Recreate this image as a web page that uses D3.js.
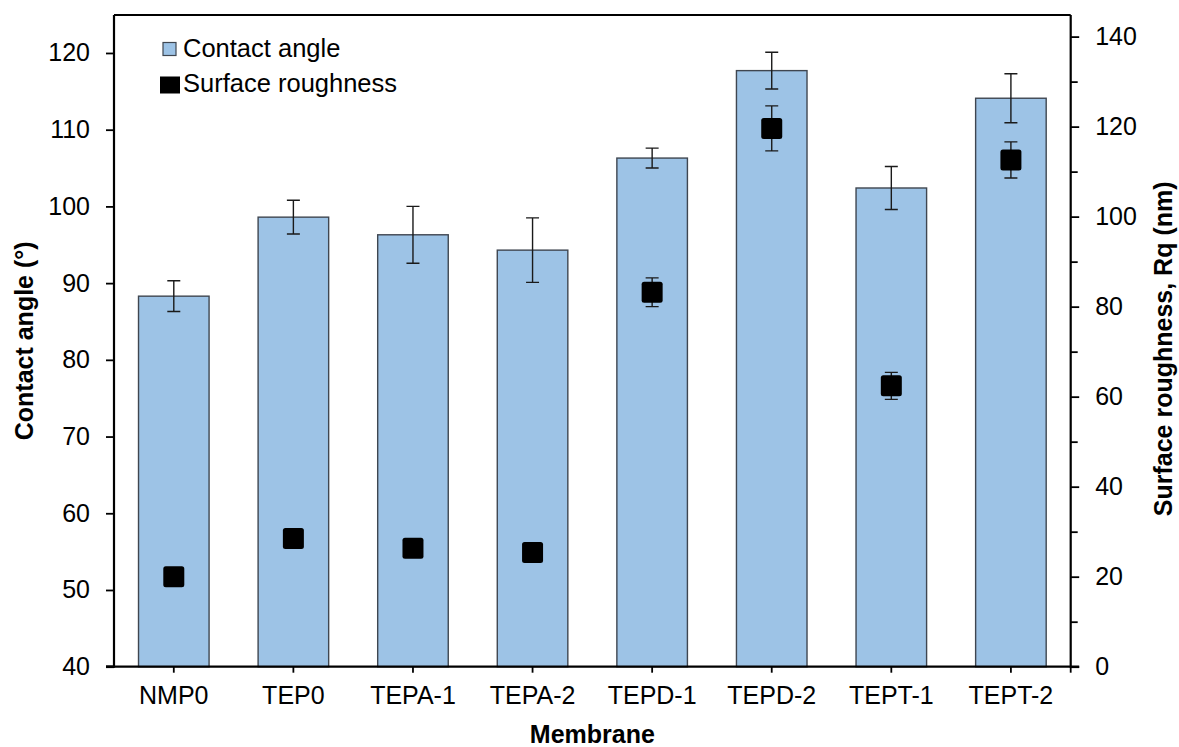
<!DOCTYPE html>
<html>
<head>
<meta charset="utf-8">
<script src="https://cdn.jsdelivr.net/npm/d3@7"></script>
<style>
  html, body { margin: 0; padding: 0; background: #fff; }
  svg { display: block; font-family: "Liberation Sans", Arial, sans-serif; }
</style>
</head>
<body>
<svg id="chart" width="1179" height="747"></svg>
<script>
// ---- data ----
const categories = ["NMP0", "TEP0", "TEPA-1", "TEPA-2", "TEPD-1", "TEPD-2", "TEPT-1", "TEPT-2"];
const contactAngle = [88.3, 98.6, 96.3, 94.3, 106.3, 117.7, 102.4, 114.1];
const contactAngleErr = [2.0, 2.2, 3.7, 4.2, 1.3, 2.4, 2.8, 3.2];
const roughness = [20.0, 28.5, 26.3, 25.4, 83.2, 119.6, 62.4, 112.6];
const roughnessErr = [1.0, 1.0, 1.0, 1.0, 3.2, 5.0, 3.0, 4.0];
const leftTicks = [40, 50, 60, 70, 80, 90, 100, 110, 120];
const rightTicks = [0, 20, 40, 60, 80, 100, 120, 140];
const rightMinorTicks = [10, 30, 50, 70, 90, 110, 130];
const legendLabels = ["Contact angle", "Surface roughness"];
const axisTitles = { x: "Membrane", left: "Contact angle (°)", right: "Surface roughness, Rq (nm)" };

// ---- layout ----
const plot = { left: 114, right: 1070.7, top: 15, bottom: 666.7 };
const FS = 25;
const LFS = 25.5;
const svg = d3.select("#chart");

const x = d3.scaleBand().domain(categories).range([plot.left, plot.right])
  .paddingInner(0.41).paddingOuter(0.205);
const xc = d3.scaleBand().domain(categories).range([plot.left, plot.right]).padding(0);
const yL = d3.scaleLinear().domain([40, 124.95]).range([plot.bottom, plot.top]);
const yR = d3.scaleLinear().domain([0, 144.8]).range([plot.bottom, plot.top]);

const rows = categories.map((c, i) => ({
  c, ca: contactAngle[i], caE: contactAngleErr[i], r: roughness[i], rE: roughnessErr[i]
}));

// bars
svg.append("g").selectAll("rect").data(rows).join("rect")
  .attr("x", d => x(d.c))
  .attr("y", d => yL(d.ca))
  .attr("width", x.bandwidth())
  .attr("height", d => plot.bottom - yL(d.ca))
  .attr("fill", "#9dc3e6")
  .attr("stroke", "#3f4650")
  .attr("stroke-width", 1.4);

const cx = d => xc(d.c) + xc.bandwidth() / 2;
const cap = 6.5;

function errBars(yS, val, err) {
  const gg = svg.append("g").attr("stroke", "#1a1a1a").attr("stroke-width", 1.4).attr("fill", "none");
  gg.selectAll("path").data(rows).join("path")
    .attr("d", d => {
      const x0 = cx(d), yt = yS(val(d) + err(d)), yb = yS(val(d) - err(d));
      return `M${x0},${yt}V${yb}M${x0 - cap},${yt}H${x0 + cap}M${x0 - cap},${yb}H${x0 + cap}`;
    });
}
errBars(yL, d => d.ca, d => d.caE);
errBars(yR, d => d.r, d => d.rE);

// roughness markers
const ms = 21;
svg.append("g").selectAll("rect").data(rows).join("rect")
  .attr("x", d => cx(d) - ms / 2)
  .attr("y", d => yR(d.r) - ms / 2)
  .attr("width", ms).attr("height", ms)
  .attr("rx", 2.5)
  .attr("fill", "#000");

// frame
svg.append("line").attr("x1", plot.left).attr("x2", plot.right)
  .attr("y1", plot.top).attr("y2", plot.top)
  .attr("stroke", "#000").attr("stroke-width", 1.8);

// left axis
const gL = svg.append("g").attr("transform", `translate(${plot.left},0)`)
  .call(d3.axisLeft(yL).tickValues(leftTicks).tickSize(8).tickPadding(16));
// right axis
const gR = svg.append("g").attr("transform", `translate(${plot.right},0)`)
  .call(d3.axisRight(yR).tickValues(rightTicks).tickSize(8.5).tickPadding(16));
svg.append("g").attr("transform", `translate(${plot.right},0)`)
  .call(d3.axisRight(yR).tickValues(rightMinorTicks).tickSize(7).tickFormat(""))
  .select(".domain").remove();
// bottom axis
const gB = svg.append("g").attr("transform", `translate(0,${plot.bottom})`)
  .call(d3.axisBottom(xc).tickSize(6).tickPadding(14).tickSizeOuter(0));
gB.append("line").attr("x1", plot.right).attr("x2", plot.right).attr("y1", 0).attr("y2", 6)
  .attr("stroke", "#000").attr("stroke-width", 1.8);

[gL, gR, gB].forEach(g => {
  g.selectAll(".tick text").attr("fill", "#000").style("font-size", FS + "px")
    .style("font-family", '"Liberation Sans", Arial, sans-serif');
});
svg.selectAll(".domain").attr("stroke", "#000").attr("stroke-width", 2.2);
svg.selectAll(".tick line").attr("stroke", "#000").attr("stroke-width", 1.8);
gL.select(".domain").attr("d", `M0,${plot.top}V${plot.bottom}H-8`);
gR.select(".domain").attr("d", `M0,${plot.top}V${plot.bottom}H8.5`);
gB.select(".domain").attr("d", `M${plot.left - 8},0H${plot.right}`);

// axis titles
svg.append("text").attr("x", (plot.left + plot.right) / 2).attr("y", 743)
  .attr("text-anchor", "middle").attr("font-weight", "bold").style("font-size", FS + "px")
  .text(axisTitles.x);
svg.append("text").attr("transform", `translate(33,${(plot.top + plot.bottom) / 2}) rotate(-90)`)
  .attr("text-anchor", "middle").attr("font-weight", "bold").style("font-size", FS + "px")
  .text(axisTitles.left);
svg.append("text").attr("transform", `translate(1172,${(plot.top + plot.bottom) / 2 + 8}) rotate(-90)`)
  .attr("text-anchor", "middle").attr("font-weight", "bold").style("font-size", FS + "px")
  .text(axisTitles.right);

// legend
const lg = svg.append("g");
lg.append("rect").attr("x", 163).attr("y", 42.5).attr("width", 13).attr("height", 13)
  .attr("fill", "#9dc3e6").attr("stroke", "#3f4650").attr("stroke-width", 1.2);
lg.append("text").attr("x", 183).attr("y", 57).style("font-size", LFS + "px").text(legendLabels[0]);
lg.append("rect").attr("x", 160).attr("y", 76.5).attr("width", 20).attr("height", 17)
  .attr("fill", "#000");
lg.append("text").attr("x", 183).attr("y", 92).style("font-size", LFS + "px").text(legendLabels[1]);
</script>
</body>
</html>
